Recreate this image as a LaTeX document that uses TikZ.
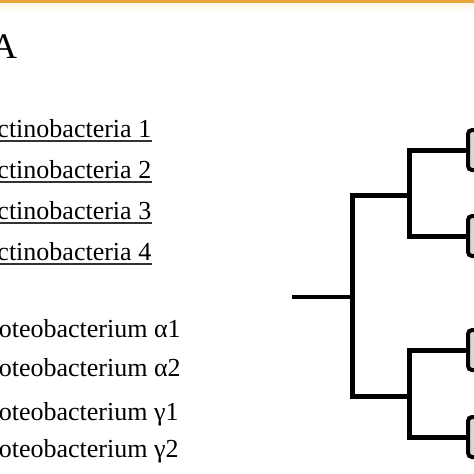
\documentclass[tikz,border=0pt]{standalone}
\usepackage{fontspec}
\setmainfont{Liberation Serif}
\definecolor{topbar}{RGB}{232,165,62}
\definecolor{topfade}{RGB}{253,243,226}
\definecolor{boxfill}{RGB}{215,215,215}
\begin{document}
\begin{tikzpicture}[x=1pt,y=-1pt,
  taxon/.style={anchor=base west,inner sep=0pt,font=\fontsize{26}{30}\selectfont},
  uline/.style={line width=1.5pt,black!80},
  branch/.style={line width=5pt,line join=miter},
  rootbranch/.style={line width=4pt},
  leafbox/.style={draw,line width=4pt,rounded corners=4pt,fill=boxfill,
    minimum width=40pt,minimum height=40pt,anchor=west,outer sep=0pt,inner sep=0pt}]
\useasboundingbox (0,0) rectangle (474,474);
\clip (0,0) rectangle (474,474);
\fill[white] (0,0) rectangle (474,474);
% top bar
\shade[top color=topfade,bottom color=white] (0,2.5) rectangle (474,12);
\fill[topbar] (0,0) rectangle (474,2.6);
% panel label
\node[anchor=base west,inner sep=0pt,font=\fontsize{36}{40}\selectfont] (lab) at (-9,58) {A};
% taxa
\node[taxon] (t1) at (-21.5,137) {Actinobacteria 1};
\node[taxon] (t2) at (-21.5,178) {Actinobacteria 2};
\node[taxon] (t3) at (-21.5,219) {Actinobacteria 3};
\node[taxon] (t4) at (-21.5,260) {Actinobacteria 4};
\foreach \t in {t1,t2,t3,t4}
  \draw[uline] ([yshift=-4pt]\t.base west) -- ([yshift=-4pt,xshift=1pt]\t.base east);
\node[taxon] (p1) at (-24.5,337) {Proteobacterium α1};
\node[taxon] (p2) at (-24.5,376) {Proteobacterium α2};
\node[taxon] (p3) at (-24.5,420) {Proteobacterium γ1};
\node[taxon] (p4) at (-24.5,457) {Proteobacterium γ2};
% tree
\coordinate (r) at (292,297);
\coordinate (c0) at (352,297);
\coordinate (cu) at (409,195);
\coordinate (cl) at (409,396);
\node[leafbox] (L1) at (468,150) {};
\node[leafbox] (L2) at (468,236) {};
\node[leafbox] (L3) at (468,350) {};
\node[leafbox] (L4) at (468,437) {};
\draw[rootbranch] (r) -- (c0);
\draw[branch] (cu) -| (c0) |- (cl);
\draw[branch] (L1.west) -| (cu) |- (L2.west);
\draw[branch] (L3.west) -| (cl) |- (L4.west);
\end{tikzpicture}
\end{document}
